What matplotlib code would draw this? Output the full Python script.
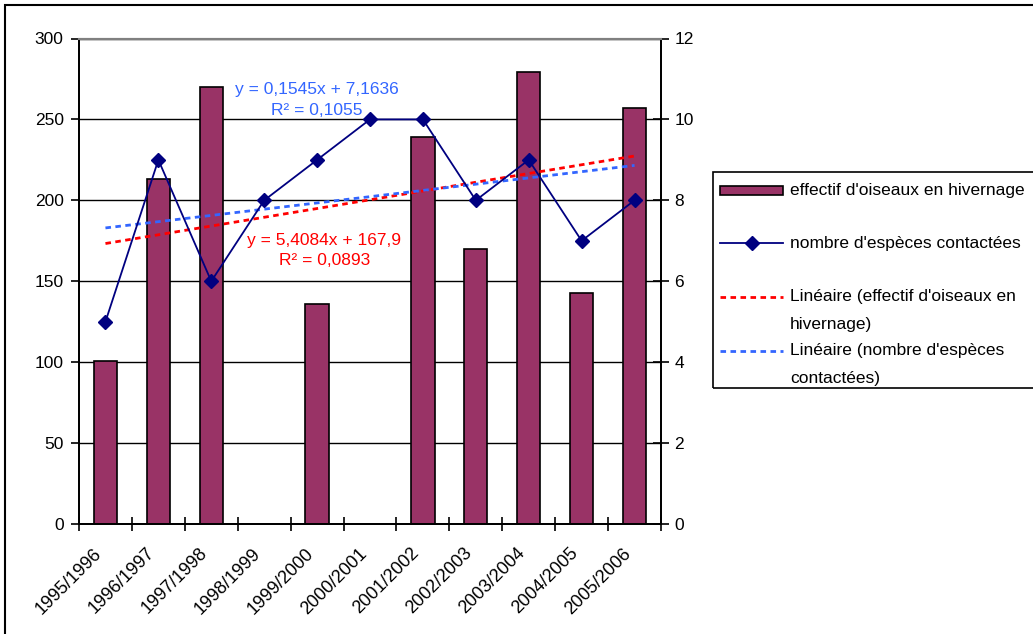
import numpy as np
import matplotlib
matplotlib.use("Agg")
import matplotlib.pyplot as plt
import matplotlib.transforms as mtransforms
from matplotlib.patches import Rectangle
from matplotlib.lines import Line2D

plt.rcParams['font.family'] = ['Liberation Sans', 'DejaVu Sans']

seasons = ["1995/1996", "1996/1997", "1997/1998", "1998/1999", "1999/2000",
           "2000/2001", "2001/2002", "2002/2003", "2003/2004", "2004/2005", "2005/2006"]
birds = [101, 213, 270, np.nan, 136, np.nan, 239, 170, 279, 143, 257]
species = [5, 9, 6, 8, 9, 10, 10, 8, 9, 7, 8]

# trend lines as displayed
red_slope, red_icpt = 5.4084, 167.9
blue_slope, blue_icpt = 0.1545, 7.1636
red_eq = ["y = 5,4084x + 167,9", "R² = 0,0893"]
blue_eq = ["y = 0,1545x + 7,1636", "R² = 0,1055"]

labels = ["effectif d'oiseaux en hivernage", "nombre d'espèces contactées",
          "Linéaire (effectif d'oiseaux en", "hivernage)",
          "Linéaire (nombre d'espèces", "contactées)"]

BAR = "#993366"
NAVY = "#000080"
RED = "#FF0000"
BLUE = "#3366FF"
FS = 12.5

W, H = 1033, 634
fig = plt.figure(figsize=(W / 100, H / 100), dpi=100)

def fx(px):
    return px / W

def fy(py):
    return 1 - py / H

L, R, T, B = 79, 661, 38.5, 524
ax = fig.add_axes([fx(L), fy(B), fx(R) - fx(L), fy(T) - fy(B)])
ax2 = ax.twinx()

x = np.arange(1, len(seasons) + 1)
ax.bar(x, birds, width=0.44, color=BAR, edgecolor="black", linewidth=1.2, zorder=2)
ax.set_xlim(0.5, len(seasons) + 0.5)
ax.set_ylim(0, 300)
ax.set_yticks(np.arange(0, 301, 50))
ax.yaxis.grid(True, color="black", linewidth=1)
ax.set_axisbelow(True)

xt = np.array([x[0], x[-1]])
ax.plot(xt, red_slope * xt + red_icpt, color=RED, linewidth=2,
        linestyle=(0, (2, 1.6)), zorder=3)

ax2.plot(x, species, color=NAVY, linewidth=1.3, marker="D", markersize=7, zorder=4)
ax2.plot(xt, blue_slope * xt + blue_icpt, color=BLUE, linewidth=2,
         linestyle=(0, (2, 1.6)), zorder=3)
ax2.set_ylim(0, 12)
ax2.set_yticks(np.arange(0, 13, 2))

ax.set_xticks(x)
ax.set_xticklabels(seasons, rotation=45, ha="right", va="top", fontsize=13)
offset = mtransforms.ScaledTranslation(-6 / 100, 0, fig.dpi_scale_trans)
for lbl in ax.get_xticklabels():
    lbl.set_transform(lbl.get_transform() + offset)
ax.set_xticks(np.arange(0.5, len(seasons) + 1, 1), minor=True)
ax.tick_params(axis="x", which="major", length=0, pad=15)
ax.tick_params(axis="x", which="minor", length=10, direction="inout", width=1.2)
ax.tick_params(axis="y", length=6, direction="out", width=1.2, labelsize=FS, pad=5)
ax2.tick_params(axis="y", length=12, direction="inout", width=1.2, labelsize=FS, pad=3.5)

for a in (ax, ax2):
    a.spines["top"].set_color("#808080")
    a.spines["top"].set_linewidth(1.5)
    for s in ("left", "right", "bottom"):
        a.spines[s].set_color("black")
        a.spines[s].set_linewidth(1.3)

# equation labels
ax.text(5.0, 268.5, blue_eq[0], color=BLUE, fontsize=FS, ha="center", va="center")
ax.text(5.0, 255.5, blue_eq[1], color=BLUE, fontsize=FS, ha="center", va="center")
ax.text(5.14, 175, red_eq[0], color=RED, fontsize=FS, ha="center", va="center")
ax.text(5.14, 163, red_eq[1], color=RED, fontsize=FS, ha="center", va="center")

# outer chart border
fig.patches.append(Rectangle((fx(5), fy(H + 20)), fx(W + 40), fy(5) - fy(H + 20),
                             transform=fig.transFigure, fill=False,
                             edgecolor="black", linewidth=1.5))

# legend (manual)
fig.patches.append(Rectangle((fx(713), fy(388)), fx(400), fy(172) - fy(388),
                             transform=fig.transFigure, fill=False,
                             edgecolor="black", linewidth=1.2))
fig.patches.append(Rectangle((fx(720), fy(195)), fx(783) - fx(720), fy(186) - fy(195),
                             transform=fig.transFigure, facecolor=BAR,
                             edgecolor="black", linewidth=1.2))
fig.lines.append(Line2D([fx(720), fx(783)], [fy(243), fy(243)], transform=fig.transFigure,
                        color=NAVY, linewidth=1.3))
fig.lines.append(Line2D([fx(751.5)], [fy(243)], transform=fig.transFigure,
                        color=NAVY, marker="D", markersize=7))
fig.lines.append(Line2D([fx(720), fx(783)], [fy(297), fy(297)], transform=fig.transFigure,
                        color=RED, linewidth=2, linestyle=(0, (2, 1.6))))
fig.lines.append(Line2D([fx(720), fx(783)], [fy(351), fy(351)], transform=fig.transFigure,
                        color=BLUE, linewidth=2, linestyle=(0, (2, 1.6))))
for lab, py in zip(labels, [191, 243, 297, 324, 351, 378]):
    fig.text(fx(790), fy(py), lab, fontsize=FS, ha="left", va="center")

fig.savefig("out.png", dpi=100)
